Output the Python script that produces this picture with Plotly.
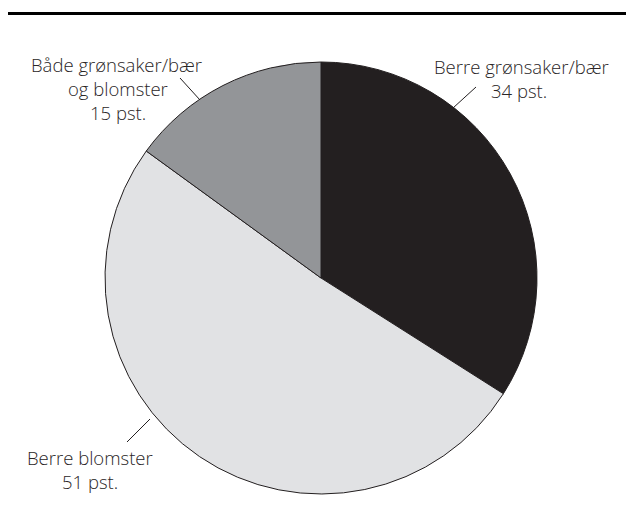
import plotly.graph_objects as go

labels = ["Berre grønsaker/bær", "Berre blomster", "Både grønsaker/bær og blomster"]
values = [34, 51, 15]
colors = ["#231f20", "#e1e2e4", "#939598"]

# page body has an 8px margin; figure sized to fit inside the window
OFF = 8
W, H = 634 - 2 * OFF, 529 - 2 * OFF

def px(x):
    return (x - OFF) / W

def py(y):
    return 1 - (y - OFF) / H

fig = go.Figure()
cx, cy, r = 321, 278, 216
fig.add_trace(go.Pie(
    labels=labels, values=values, sort=False, direction="clockwise", rotation=0,
    marker=dict(colors=colors, line=dict(color="#231f20", width=1)),
    textinfo="none", hoverinfo="label+value", showlegend=False,
    domain=dict(x=[px(cx - r), px(cx + r)], y=[py(cy + r), py(cy - r)]),
))

font = dict(family="Open Sans", size=18.5, color="#2a2627", weight=300)
label_lines = [
    ("Berre grønsaker/bær", 521, 67),
    (f"{values[0]} pst.", 519, 91),
    ("Både grønsaker/bær", 116, 64),
    ("og blomster", 118, 88),
    (f"{values[2]} pst.", 118, 112),
    ("Berre blomster", 90, 457),
    (f"{values[1]} pst.", 90, 481),
]
for t, x, y in label_lines:
    fig.add_annotation(text=t, x=px(x), y=py(y), xref="paper", yref="paper",
                       xanchor="center", yanchor="middle", showarrow=False, font=font)

leaders = [((476, 87), (453, 108)), ((180, 78), (200, 100)), ((150, 419), (127, 442))]
for (x0, y0), (x1, y1) in leaders:
    fig.add_shape(type="line", xref="paper", yref="paper", x0=px(x0), y0=py(y0), x1=px(x1), y1=py(y1),
                  line=dict(color="#231f20", width=1))

fig.add_shape(type="line", xref="paper", yref="paper", x0=px(4), y0=py(13.5), x1=px(634), y1=py(13.5),
              line=dict(color="#000000", width=3))

fig.update_layout(width=W, height=H, margin=dict(l=0, r=0, t=0, b=0),
                  paper_bgcolor="white", plot_bgcolor="white")
fig.write_html("out.html")
